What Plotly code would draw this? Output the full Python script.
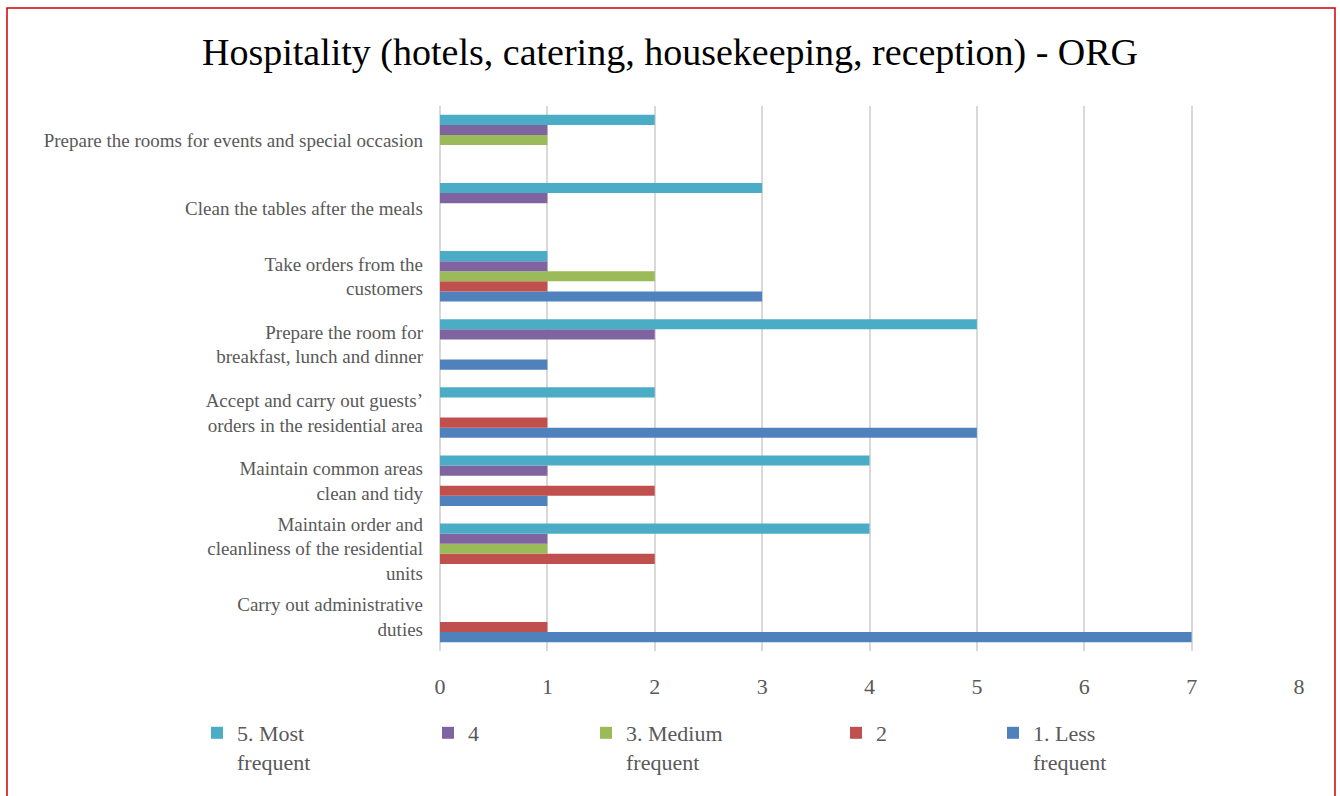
import plotly.graph_objects as go

# categories listed bottom -> top
categories = [
    "Carry out administrative<br>duties",
    "Maintain order and<br>cleanliness of the residential<br>units",
    "Maintain common areas<br>clean and tidy",
    "Accept and carry out guests’<br>orders in the residential area",
    "Prepare the room for<br>breakfast, lunch and dinner",
    "Take orders from the<br>customers",
    "Clean the tables after the meals",
    "Prepare the rooms for events and special occasion",
]

less_frequent = [7, 0, 1, 5, 1, 3, 0, 0]
two = [1, 2, 2, 1, 0, 1, 0, 0]
medium_frequent = [0, 1, 0, 0, 0, 2, 0, 1]
four = [0, 1, 1, 0, 2, 1, 1, 1]
most_frequent = [0, 4, 4, 2, 5, 1, 3, 2]

series_names = ["1. Less<br>frequent", "2", "3. Medium<br>frequent", "4", "5. Most<br>frequent"]
series_values = [less_frequent, two, medium_frequent, four, most_frequent]
colors = ["#4F81BD", "#C0504D", "#9BBB59", "#8064A2", "#4BACC6"]
x_ticks = [0, 1, 2, 3, 4, 5, 6, 7, 8]

W, H = 1340, 796
ML, MR, MT, MB = 440, 41, 106, 145
legend_px = [993, 836, 586, 428, 197]  # left of each legend box (container px)
legend_keys = ["legend5", "legend4", "legend3", "legend2", "legend"]

fig = go.Figure()
for name, vals, col, lg in zip(series_names, series_values, colors, legend_keys):
    fig.add_trace(go.Bar(
        y=categories, x=vals, name=name, orientation="h",
        marker=dict(color=col, line=dict(width=0)), legend=lg, showlegend=True,
    ))

legend_font = dict(family="Liberation Serif", size=22, color="#595959")
for key, px in zip(legend_keys, legend_px):
    fig.layout[key] = dict(
        xref="container", yref="container",
        x=px / W, y=1 - 712 / H, xanchor="left", yanchor="top",
        orientation="h", font=legend_font, valign="top",
        bgcolor="rgba(0,0,0,0)", visible=True,
    )

pw = W - ML - MR
ph = H - MT - MB
fig.add_shape(
    type="rect", xref="paper", yref="paper",
    x0=(7 - ML) / pw, x1=(1335 - ML) / pw,
    y0=(MB - 805) / ph, y1=1 + (MT - 8) / ph,
    line=dict(color="#D00000", width=1.5), fillcolor="rgba(0,0,0,0)", layer="below",
)

fig.update_layout(
    width=W, height=H, showlegend=True,
    margin=dict(l=ML, r=MR, t=MT, b=MB),
    paper_bgcolor="white", plot_bgcolor="white",
    barmode="group", bargap=0.26, bargroupgap=0,
    title=dict(
        text="Hospitality (hotels, catering, housekeeping, reception) - ORG",
        x=0.5, xref="container", xanchor="center",
        y=1 - 52 / H, yref="container", yanchor="middle",
        font=dict(family="Liberation Serif", size=38, color="#000000"),
    ),
    xaxis=dict(
        range=[0, 8], tickvals=x_ticks, showgrid=True, gridcolor="#D9D9D9", gridwidth=2,
        zeroline=True, zerolinecolor="#D9D9D9", zerolinewidth=2, showline=False,
        tickfont=dict(family="Liberation Serif", size=22, color="#595959"),
        ticks="", ticklabelstandoff=20,
    ),
    yaxis=dict(
        type="category", categoryorder="array", categoryarray=categories,
        showgrid=False, zeroline=False, showline=False, ticks="",
        tickfont=dict(family="Liberation Serif", size=19, color="#595959"),
        ticklabelstandoff=16,
    ),
)

fig.write_html("out.html", config={"displayModeBar": False},
               post_script="document.body.style.margin='0';")
